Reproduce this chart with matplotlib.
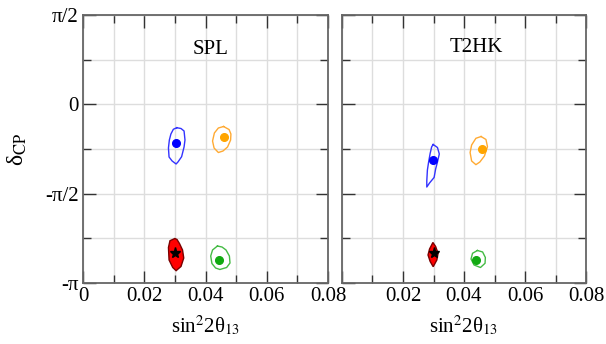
import numpy as np
import matplotlib
matplotlib.use("Agg")
import matplotlib.pyplot as plt
from matplotlib.ticker import MultipleLocator, FixedLocator

plt.rcParams["font.family"] = ["Liberation Serif", "DejaVu Serif"]
plt.rcParams["mathtext.fontset"] = "stix"

# Best-fit points (sin^2 2theta13, delta_CP)
spl_dots_x = [0.0304, 0.0461, 0.0443]
spl_dots_y = [-0.685, -0.580, -2.737]
t2hk_dots_x = [0.0299, 0.0460, 0.0438]
t2hk_dots_y = [-0.979, -0.780, -2.737]
dot_colors = ["#0000ff", "#ffa500", "#11aa11"]
true_x = 0.0302
true_y = -2.619

# SPL allowed regions
spl_blue_x = [0.0306, 0.0320, 0.0330, 0.0333, 0.0330, 0.0322, 0.0310, 0.0304, 0.0291, 0.0281, 0.0279, 0.0282, 0.0287, 0.0295]
spl_blue_y = [-0.411, -0.425, -0.469, -0.627, -0.750, -0.921, -1.014, -1.049, -0.996, -0.926, -0.768, -0.627, -0.522, -0.439]
spl_orange_x = [0.0459, 0.0477, 0.0483, 0.0482, 0.0472, 0.0457, 0.0442, 0.0428, 0.0423, 0.0429, 0.0442]
spl_orange_y = [-0.390, -0.443, -0.522, -0.627, -0.750, -0.821, -0.847, -0.768, -0.645, -0.504, -0.416]
spl_red_x = [0.0300, 0.0284, 0.0279, 0.0281, 0.0293, 0.0304, 0.0320, 0.0329, 0.0325, 0.0315, 0.0307]
spl_red_y = [-2.359, -2.398, -2.517, -2.737, -2.869, -2.925, -2.851, -2.702, -2.561, -2.447, -2.377]
spl_green_x = [0.0439, 0.0423, 0.0417, 0.0421, 0.0433, 0.0447, 0.0469, 0.0480, 0.0478, 0.0467, 0.0454]
spl_green_y = [-2.491, -2.561, -2.667, -2.799, -2.878, -2.904, -2.869, -2.790, -2.667, -2.561, -2.509]

# T2HK allowed regions
t2hk_blue_x = [0.0299, 0.0313, 0.0319, 0.0313, 0.0307, 0.0302, 0.0287, 0.0278, 0.0278, 0.0280, 0.0284, 0.0289, 0.0294]
t2hk_blue_y = [-0.706, -0.759, -0.873, -1.014, -1.137, -1.286, -1.383, -1.454, -1.348, -1.155, -1.014, -0.864, -0.747]
t2hk_orange_x = [0.0456, 0.0472, 0.0477, 0.0467, 0.0452, 0.0439, 0.0425, 0.0420, 0.0425, 0.0439]
t2hk_orange_y = [-0.566, -0.618, -0.745, -0.908, -1.014, -1.061, -0.996, -0.847, -0.715, -0.597]
t2hk_red_x = [0.0298, 0.0287, 0.0282, 0.0289, 0.0299, 0.0311, 0.0315, 0.0307]
t2hk_red_y = [-2.429, -2.544, -2.649, -2.763, -2.855, -2.737, -2.619, -2.500]
t2hk_green_x = [0.0444, 0.0428, 0.0423, 0.0433, 0.0454, 0.0469, 0.0470, 0.0461]
t2hk_green_y = [-2.570, -2.619, -2.720, -2.825, -2.869, -2.795, -2.693, -2.596]

y_ticks = [-np.pi, -np.pi / 2, 0, np.pi / 2]
y_labels = ["-π", "-π/2", "0", "π/2"]


def closed(xs, ys):
    return list(xs) + [xs[0]], list(ys) + [ys[0]]


def draw_panel(ax, title, blue, orange, red, green, dx, dy, first):
    ax.set_xlim(0, 0.08)
    ax.set_ylim(-np.pi, np.pi / 2)
    ax.xaxis.set_major_locator(MultipleLocator(0.02))
    ax.xaxis.set_minor_locator(MultipleLocator(0.01))
    ax.yaxis.set_major_locator(FixedLocator(y_ticks))
    ax.yaxis.set_minor_locator(FixedLocator([-3 * np.pi / 4, -np.pi / 4, np.pi / 4]))
    ax.grid(True, which="both", color="#dddddd", linewidth=1.0, zorder=0)
    ax.set_axisbelow(True)
    ax.tick_params(which="both", direction="in", top=True, right=True,
                   color="#333333", labelsize=15, pad=3)
    ax.tick_params(which="major", length=9, width=1.0)
    ax.tick_params(which="minor", length=5.5, width=1.0)
    for s in ax.spines.values():
        s.set_color("#666666")
        s.set_linewidth(1.3)

    ax.set_xticks([0, 0.02, 0.04, 0.06, 0.08])
    if first:
        ax.set_yticklabels(y_labels)
        ax.set_xticklabels(["0", "0.02", "0.04", "0.06", "0.08"])
        ax.set_ylabel("δ$_{\\rm CP}$", fontsize=17, labelpad=12)
    else:
        ax.set_yticklabels([])
        ax.set_xticklabels(["", "0.02", "0.04", "0.06", "0.08"])
    ax.set_xlabel("sin$^2$2θ$_{13}$", fontsize=15, labelpad=6)

    bx, by = closed(*blue)
    ax.plot(bx, by, color="#3333ff", lw=1.0, zorder=3)
    ox, oy = closed(*orange)
    ax.plot(ox, oy, color="#ffaa33", lw=1.0, zorder=3)
    gx, gy = closed(*green)
    ax.plot(gx, gy, color="#44bb44", lw=1.0, zorder=3)
    ax.fill(red[0], red[1], facecolor="#ff0000", edgecolor="#7a0000", lw=1.0, zorder=3)

    for x, y, c in zip(dx, dy, dot_colors):
        ax.plot(x, y, "o", color=c, ms=5.5, zorder=4)
    ax.plot(true_x, true_y, "*", color="black", ms=8, zorder=5)

    return ax.text(0.5, 0.87, title, transform=ax.transAxes, ha="center", va="center", fontsize=15)


fig = plt.figure(figsize=(6.06, 3.44), dpi=100)
ax1 = fig.add_axes([83 / 606, 1 - 283 / 344, 245 / 606, 268 / 344])
ax2 = fig.add_axes([342 / 606, 1 - 283 / 344, 244 / 606, 268 / 344])

t1 = draw_panel(ax1, "SPL",
                (spl_blue_x, spl_blue_y), (spl_orange_x, spl_orange_y),
                (spl_red_x, spl_red_y), (spl_green_x, spl_green_y),
                spl_dots_x, spl_dots_y, True)
t2 = draw_panel(ax2, "T2HK",
                (t2hk_blue_x, t2hk_blue_y), (t2hk_orange_x, t2hk_orange_y),
                (t2hk_red_x, t2hk_red_y), (t2hk_green_x, t2hk_green_y),
                t2hk_dots_x, t2hk_dots_y, False)

t1.set_position((0.52, 0.87))
t2.set_position((0.55, 0.88))

fig.savefig("out.png", dpi=100)
